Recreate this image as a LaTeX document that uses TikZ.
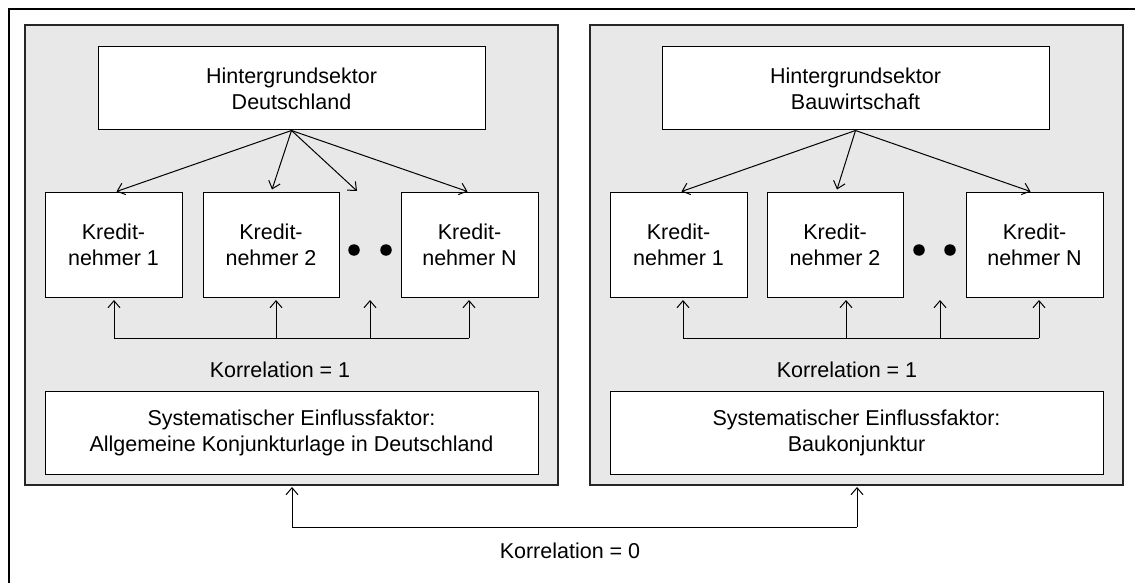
\documentclass[tikz,border=0pt]{standalone}
\usepackage{fontspec}
\setmainfont{Liberation Sans}
\usetikzlibrary{arrows.meta,calc}
\definecolor{panelgray}{HTML}{E8E8E8}
\tikzset{
  panel/.style={draw=black!85, line width=1.4pt, fill=panelgray, inner sep=0pt},
  box/.style={draw=black, line width=1pt, fill=white, align=center, inner sep=0pt},
  lbl/.style={inner sep=0pt, align=center},
  dotn/.style={circle, fill=black, inner sep=0pt, minimum size=11.5pt},
  conn/.style={line width=1pt, -{Straight Barb[length=7pt,width=12pt,line width=1pt]}},
  bar/.style={line width=1pt},
}
\begin{document}
\begin{tikzpicture}[x=1pt,y=-1pt,font=\fontsize{21.5}{26}\selectfont]
\useasboundingbox (0,0) rectangle (1135,583);
% outer frame (clipped at right and bottom)
\coordinate (fTR) at (1135,9);
\coordinate (fTL) at (9,9);
\coordinate (fBL) at (9,583);
\draw[line width=2pt] (fTR) -- (fTL) -- (fBL);

% panels
\node[panel, minimum width=533pt, minimum height=460pt] (panelL) at (291.5,255) {};
\node[panel, minimum width=533pt, minimum height=460pt] (panelR) at (856.5,255) {};

% top boxes
\node[box, minimum width=387pt, minimum height=83pt] (topL) at (291.5,88.5) {Hintergrundsektor\\Deutschland};
\node[box, minimum width=387pt, minimum height=83pt] (topR) at (855.5,88.5) {Hintergrundsektor\\Bauwirtschaft};

% Kreditnehmer boxes
\node[box, minimum width=137pt, minimum height=105pt] (L1) at (113.5,244.5) {Kredit-\\nehmer 1};
\node[box, minimum width=136pt, minimum height=105pt] (L2) at (271,244.5) {Kredit-\\nehmer 2};
\node[box, minimum width=137pt, minimum height=105pt] (LN) at (469.5,244.5) {Kredit-\\nehmer N};
\node[box, minimum width=137pt, minimum height=105pt] (R1) at (678.5,244.5) {Kredit-\\nehmer 1};
\node[box, minimum width=136pt, minimum height=105pt] (R2) at (835,244.5) {Kredit-\\nehmer 2};
\node[box, minimum width=137pt, minimum height=105pt] (RN) at (1034.5,244.5) {Kredit-\\nehmer N};

% dots
\node[dotn] (dL1) at (354,250) {};
\node[dotn] (dL2) at (386,250) {};
\node[dotn] (dR1) at (919,250) {};
\node[dotn] (dR2) at (950,250) {};

% systematic factor boxes
\node[box, minimum width=493pt, minimum height=83pt] (sysL) at (291.5,432.5) {Systematischer Einflussfaktor:\\Allgemeine Konjunkturlage in Deutschland};
\node[box, minimum width=493pt, minimum height=83pt] (sysR) at (856.5,432.5) {Systematischer Einflussfaktor:\\Baukonjunktur};

% labels
\node[lbl] (k1L) at (280,370) {Korrelation = 1};
\node[lbl] (k1R) at (847,370) {Korrelation = 1};
\node[lbl] (k0) at (570,551) {Korrelation = 0};

% top arrows, left
\coordinate (gapL) at (357,191);
\draw[conn] (topL.south) -- ($(L1.north)+(3,0)$);
\draw[conn] (topL.south) -- ($(L2.north)+(1,-2)$);
\draw[conn] (topL.south) -- (gapL);
\draw[conn] (topL.south) -- ($(LN.north)+(-2,0)$);
% top arrows, right
\draw[conn] (topR.south) -- ($(R1.north)+(3,0)$);
\draw[conn] (topR.south) -- ($(R2.north)+(2,-2)$);
\draw[conn] (topR.south) -- ($(RN.north)+(-4,0)$);

% correlation bars, left
\coordinate (bL1) at (114,338);
\coordinate (bL2) at (276,338);
\coordinate (bL3) at (370,338);
\coordinate (bL4) at (469,338);
\draw[bar] (bL1) -- (bL4);
\draw[conn] (bL1) -- (bL1 |- {0,300});
\draw[conn] (bL2) -- (bL2 |- {0,300});
\draw[conn] (bL3) -- (bL3 |- {0,300});
\draw[conn] (bL4) -- (bL4 |- {0,300});
% correlation bars, right
\coordinate (bR1) at (683,338);
\coordinate (bR2) at (846,338);
\coordinate (bR3) at (940,338);
\coordinate (bR4) at (1039,338);
\draw[bar] (bR1) -- (bR4);
\draw[conn] (bR1) -- (bR1 |- {0,300});
\draw[conn] (bR2) -- (bR2 |- {0,300});
\draw[conn] (bR3) -- (bR3 |- {0,300});
\draw[conn] (bR4) -- (bR4 |- {0,300});

% bottom correlation between panels
\coordinate (b0L) at (292,527);
\coordinate (b0R) at (857,527);
\draw[bar] (b0L) -- (b0R);
\draw[conn] (b0L) -- (b0L |- {0,487});
\draw[conn] (b0R) -- (b0R |- {0,487});
\end{tikzpicture}
\end{document}
